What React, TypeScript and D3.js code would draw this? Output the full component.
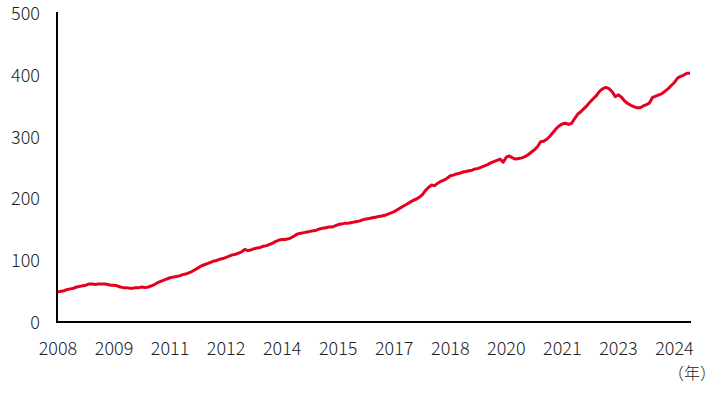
import React, { useEffect } from 'react';
import * as d3 from 'd3';

// monthly index values, Jan 2008 .. Dec 2024
const values: number[] = [
    47, 48, 49, 51, 52, 53, 55, 56, 57, 58, 60, 60, // 2008
    59, 60, 60, 60, 59, 58, 58, 57, 55, 54, 54, 53, // 2009
    53, 54, 54, 55, 54, 55, 57, 59, 62, 64, 66, 68, // 2010
    70, 71, 72, 73, 75, 76, 78, 80, 83, 86, 89, 91, // 2011
    93, 95, 97, 98, 100, 101, 103, 105, 107, 108, 110, 112, // 2012
    116, 114, 115, 117, 118, 119, 121, 122, 124, 126, 129, 131, // 2013
    132, 132, 133, 135, 138, 141, 142, 143, 144, 145, 146, 147, // 2014
    149, 150, 151, 152, 152, 154, 156, 157, 158, 158, 159, 160, // 2015
    161, 162, 164, 165, 166, 167, 168, 169, 170, 171, 173, 175, // 2016
    177, 180, 183, 186, 189, 192, 195, 197, 200, 204, 211, 216, // 2017
    220, 219, 223, 226, 228, 231, 235, 236, 238, 239, 241, 242, // 2018
    243, 244, 246, 247, 249, 251, 253, 256, 258, 260, 262, 257, // 2019
    265, 267, 264, 262, 263, 264, 266, 269, 273, 277, 282, 290, // 2020
    291, 294, 299, 305, 311, 316, 319, 320, 318, 320, 328, 335, // 2021
    339, 344, 349, 355, 360, 365, 372, 376, 378, 376, 371, 363, // 2022
    366, 362, 356, 352, 349, 347, 345, 345, 348, 350, 353, 362, // 2023
    364, 366, 368, 372, 376, 381, 386, 393, 396, 398, 401, 401, // 2024
];

const tickEvery = 18; // one label every 18 months
const tickLabels = ['2008', '2009', '2011', '2012', '2014', '2015', '2017', '2018', '2020', '2021', '2023', '2024'];
const yTicks = [0, 100, 200, 300, 400, 500];

const App: React.FC = () => {
    useEffect(() => {
        document.body.style.margin = '0';
    }, []);

    const width = 721;
    const height = 395;
    const font = '"Noto Sans CJK JP", "Liberation Sans", sans-serif';

    const x = d3.scaleLinear().domain([0, values.length - 1]).range([58, 690]);
    const y = d3.scaleLinear().domain([0, 500]).range([321, 12]);

    const line = d3.line<number>()
        .x((_, i) => x(i))
        .y(d => y(d));

    return (
        <svg width={width} height={height} style={{ display: 'block', background: '#fff' }}>
            {/* line */}
            <path d={line(values) || ''} fill="none" stroke="#E50020" strokeWidth={3} strokeLinejoin="round" />

            {/* axes */}
            <line x1={57} x2={57} y1={y(500)} y2={y(0) + 1} stroke="#000" strokeWidth={2} />
            <line x1={56} x2={691} y1={y(0) + 1} y2={y(0) + 1} stroke="#000" strokeWidth={2} />

            {yTicks.map(t => (
                <text key={t} x={40} y={y(t)} textAnchor="end" dominantBaseline="central"
                    fontFamily={font} fontSize={18} fontWeight={300} fill="#222">{t}</text>
            ))}

            {tickLabels.map((lab, i) => (
                <text key={lab} x={x(i * tickEvery)} y={347} textAnchor="middle" dominantBaseline="central"
                    fontFamily={font} fontSize={18} fontWeight={300} fill="#222">{lab}</text>
            ))}

            <text x={716} y={372} textAnchor="end" dominantBaseline="central"
                fontFamily={font} fontSize={16} fontWeight={300} fill="#222">（年）</text>
        </svg>
    );
};

export default App;
